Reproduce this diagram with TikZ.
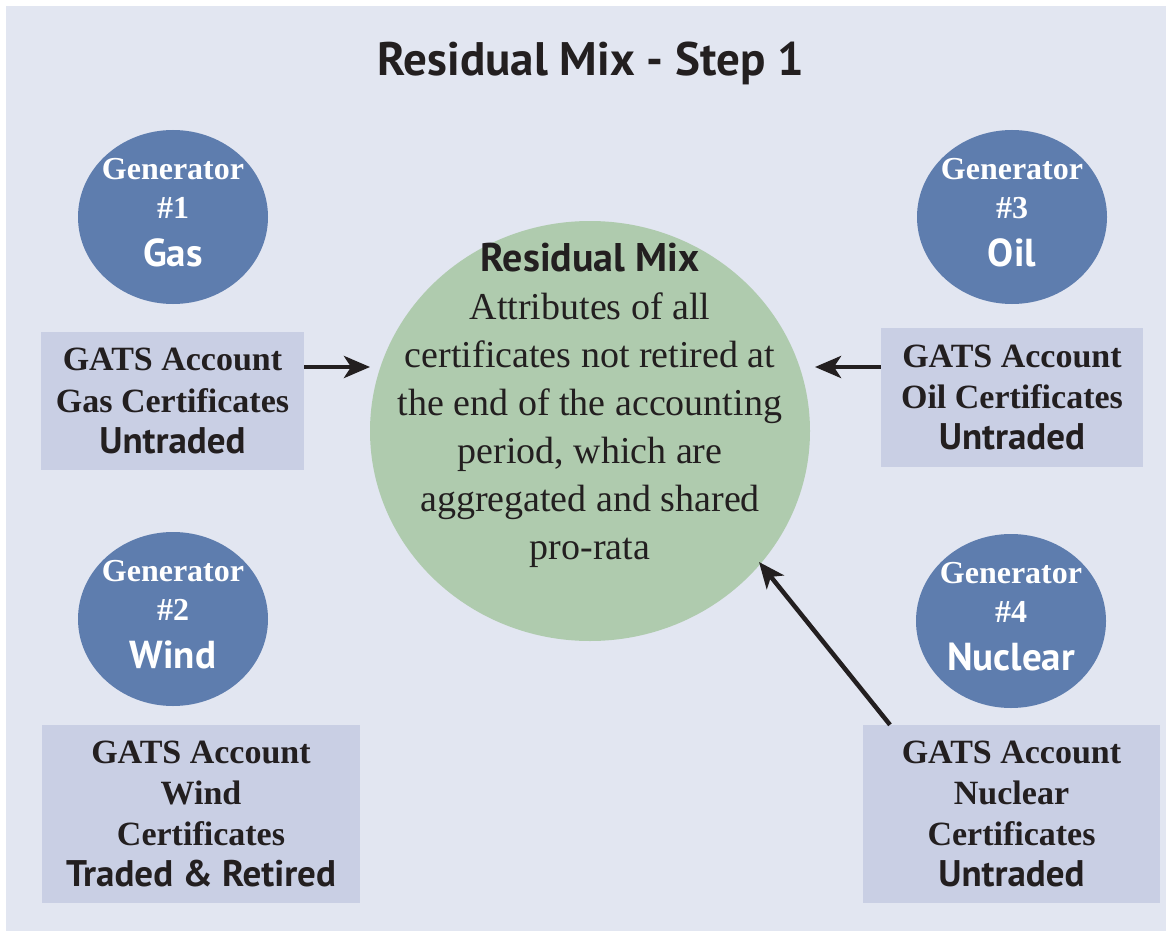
\documentclass[tikz,border=0pt]{standalone}
\usepackage{fontspec}
\setmainfont{Liberation Serif}
\newfontfamily\headfont{PT Sans}
\usetikzlibrary{arrows.meta}
\usetikzlibrary{positioning}
\usetikzlibrary{shapes.geometric}
\definecolor{panel}{HTML}{E2E6F1}
\definecolor{genblue}{HTML}{5E7DAE}
\definecolor{mixgreen}{HTML}{AFCBAE}
\definecolor{acctblue}{HTML}{C9CFE4}
\definecolor{ink}{HTML}{231F20}
\tikzset{
    arrow/.style={-{Stealth[length=26pt,width=22pt,inset=7pt]}, line width=4.5pt, draw=ink},
    gen/.style = {
      ellipse,
      fill=genblue,
      minimum width=190pt,
      minimum height=174pt,
      inner sep=-12pt,
      text depth=10pt,
      text=white,
      align=center,
      font=\bfseries\fontsize{32}{39}\selectfont
    },
    acct/.style = {
      rectangle,
      fill=acctblue,
      inner sep=0pt,
      text=ink,
      align=center,
      font=\bfseries\fontsize{34}{41}\selectfont
    },
    mix/.style = {
      ellipse,
      fill=mixgreen,
      minimum width=440pt,
      minimum height=420pt,
      inner sep=0pt
    },
}
\newcommand{\fuel}[1]{{\headfont\fontsize{39}{45}\selectfont #1}}
\newcommand{\status}[1]{{\headfont\fontsize{37}{45}\selectfont #1}}

\begin{document}
\begin{tikzpicture}[x=1pt, y=-1pt]
        \useasboundingbox (0,0) rectangle (1169,936);
        \fill[white] (0,0) rectangle (1169,936);
        \fill[panel] (6,6) rectangle (1166,931);

        \node[text=ink, font=\headfont\bfseries\fontsize{47}{50}\selectfont] (title) at (591,63) {Residual Mix - Step 1};

        \node[mix] (mix) at (590,431) {};
        \node[text=ink, align=center, font=\fontsize{38}{48}\selectfont] (mixtext) at (590,405)
          {{\headfont\bfseries\fontsize{40}{48}\selectfont Residual Mix}\\Attributes of all\\certificates not retired at\\the end of the accounting\\period, which are\\aggregated and shared\\pro-rata};

        \node[gen] (gen1) at (173,217) {Generator\\\#1\\[9pt]\fuel{Gas}};
        \node[gen] (gen3) at (1012,217) {Generator\\\#3\\[9pt]\fuel{Oil}};
        \node[gen] (gen2) at (173,619) {Generator\\\#2\\[9pt]\fuel{Wind}};
        \node[gen] (gen4) at (1011,621) {Generator\\\#4\\[9pt]\fuel{Nuclear}};

        \node[acct, minimum width=263pt, minimum height=138pt] (gasacct) at (172.5,401)
          {GATS Account\\Gas Certificates\\\status{Untraded}};
        \node[acct, minimum width=262pt, minimum height=139pt] (oilacct) at (1012,397.5)
          {GATS Account\\Oil Certificates\\\status{Untraded}};
        \node[acct, minimum width=318pt, minimum height=178pt] (windacct) at (201,814)
          {GATS Account\\Wind\\Certificates\\\status{Traded \& Retired}};
        \node[acct, minimum width=297pt, minimum height=178pt] (nucacct) at (1011.5,814)
          {GATS Account\\Nuclear\\Certificates\\\status{Untraded}};

        \coordinate (gasend) at (370,367);
        \coordinate (oilend) at (815,367);
        \coordinate (nucend) at (759,562);

        \draw[arrow] (gasacct.east |- gasend) -- (gasend);
        \draw[arrow] (oilacct.west |- oilend) -- (oilend);
        \draw[arrow] ([xshift=-121.5pt]nucacct.north) -- (nucend);
      \end{tikzpicture}
\end{document}
